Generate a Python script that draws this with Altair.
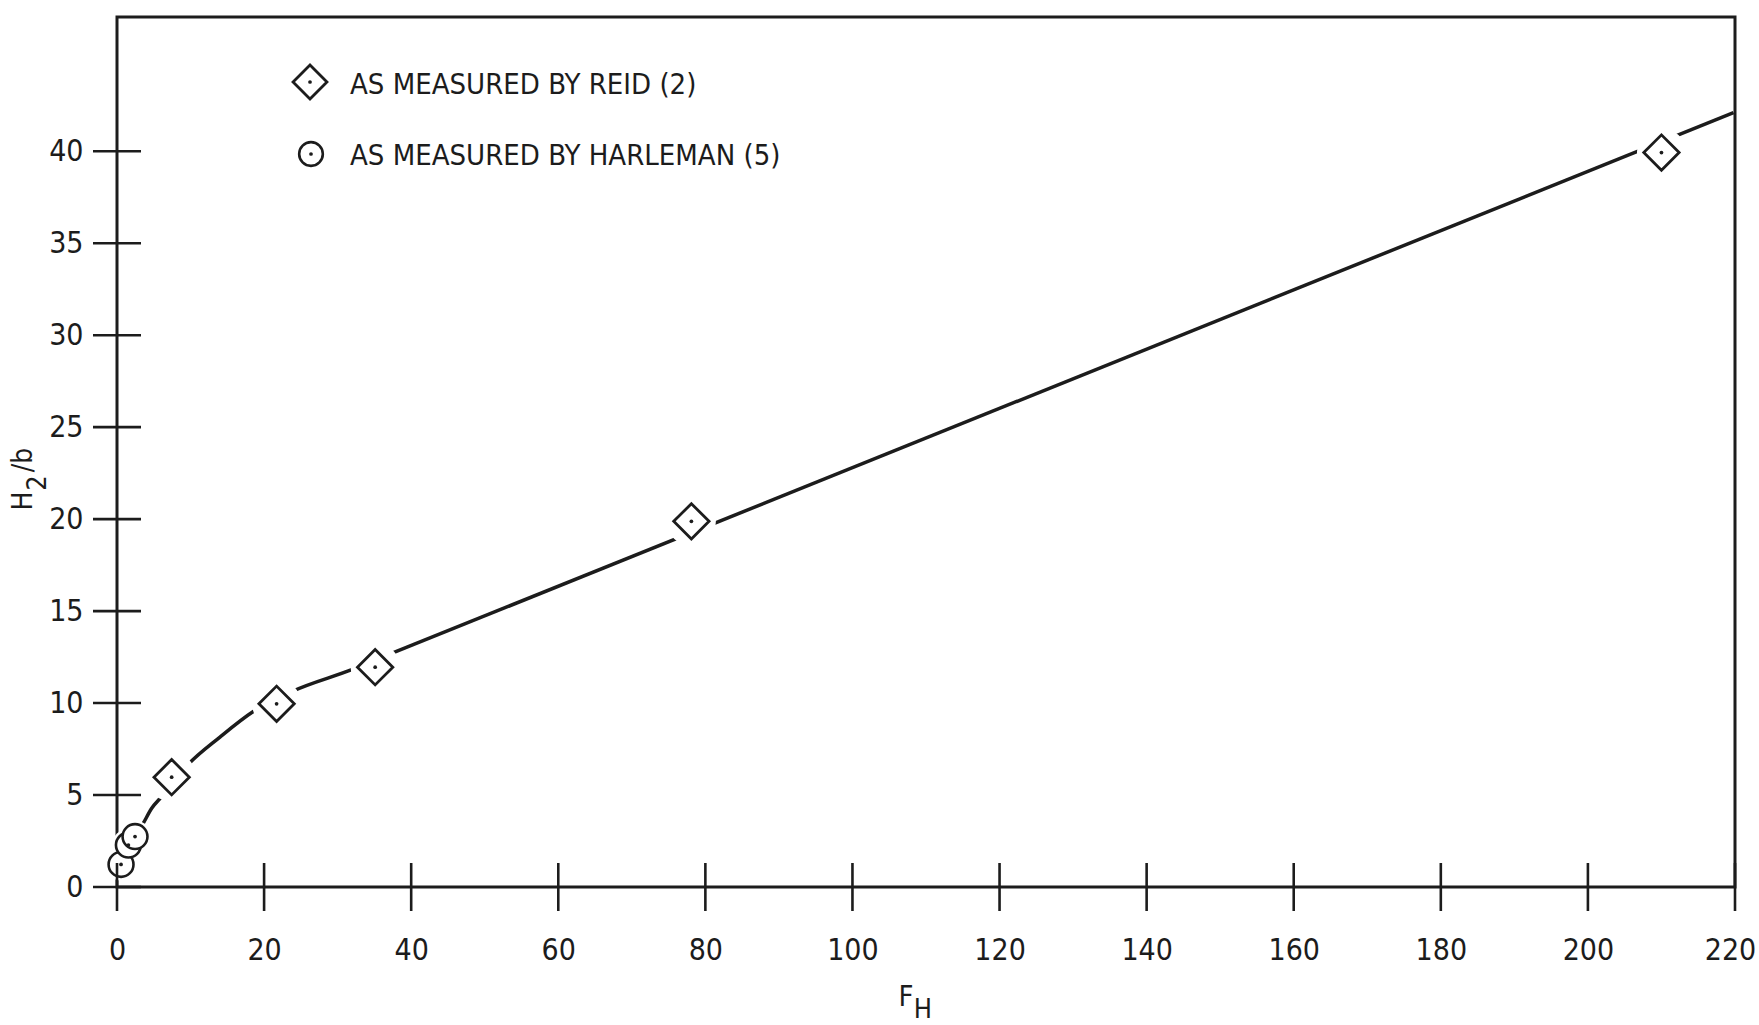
import altair as alt
import pandas as pd

# ---- data ----
reid_x = [7.43, 21.7, 35.1, 78.1, 210.0]
reid_y = [5.97, 9.96, 11.95, 19.88, 39.93]

harl_x = [0.55, 1.55, 2.45]
harl_y = [1.23, 2.28, 2.74]

# hand-drawn curve (smooth part) and straight part
curve_x = [2.45, 3.58, 4.72, 6.07, 9.47, 14.0, 18.53, 23.8, 32.1, 36.9]
curve_y = [2.7, 3.47, 4.28, 4.91, 6.58, 8.15, 9.54, 10.63, 11.84, 12.63]
straight_x = [36.9, 219.8]
straight_y = [12.63, 42.1]

x_ticks = [0, 20, 40, 60, 80, 100, 120, 140, 160, 180, 200, 220]
y_ticks = [0, 5, 10, 15, 20, 25, 30, 35, 40]

legend_labels = ["AS MEASURED BY REID (2)", "AS MEASURED BY HARLEMAN (5)"]

FONT = "Liberation Sans Narrow, DejaVu Sans Condensed, Liberation Sans, sans-serif"
INK = "#1c1c1c"

reid = pd.DataFrame({"x": reid_x, "y": reid_y})
harl = pd.DataFrame({"x": harl_x, "y": harl_y})
curve = pd.DataFrame({"x": curve_x, "y": curve_y})
straight = pd.DataFrame({"x": straight_x, "y": straight_y})
xt = pd.DataFrame({"v": x_ticks})
yt = pd.DataFrame({"v": y_ticks})

xs = alt.Scale(domain=[0, 220], nice=False, zero=False)
ys = alt.Scale(domain=[0, 47.3], nice=False, zero=False)

xaxis = alt.Axis(values=x_ticks, domain=False, ticks=False, grid=False, labelPadding=48,
                 labelFont=FONT, labelFontSize=30, labelColor=INK, title=None, labelFlush=False,
                 labelOffset=alt.ExprRef("datum.value == 220 ? -5 : 0"))
yaxis = alt.Axis(values=y_ticks, domain=False, ticks=False, grid=False, labelPadding=34,
                 labelFont=FONT, labelFontSize=30, labelColor=INK, title=None)

line = alt.Chart(curve).mark_line(interpolate="monotone", color=INK, strokeWidth=3.5).encode(
    x=alt.X("x:Q", scale=xs, axis=xaxis),
    y=alt.Y("y:Q", scale=ys, axis=yaxis),
    order="x:Q",
)
line2 = alt.Chart(straight).mark_line(color=INK, strokeWidth=3.5).encode(
    x=alt.X("x:Q", scale=xs), y=alt.Y("y:Q", scale=ys), order="x:Q")

halo_reid = alt.Chart(reid).mark_point(shape="circle", filled=True, color="white", opacity=1, size=2400).encode(
    x=alt.X("x:Q", scale=xs), y=alt.Y("y:Q", scale=ys))
halo_harl = alt.Chart(harl).mark_point(shape="circle", filled=True, color="white", opacity=1, size=1050).encode(
    x=alt.X("x:Q", scale=xs), y=alt.Y("y:Q", scale=ys))

diam = alt.Chart(reid).mark_point(shape="diamond", fill="white", fillOpacity=1, stroke=INK, strokeWidth=2.8,
                                  opacity=1, size=1250).encode(
    x=alt.X("x:Q", scale=xs), y=alt.Y("y:Q", scale=ys))
circ = alt.Chart(harl).mark_point(shape="circle", fill="white", fillOpacity=1, stroke=INK, strokeWidth=2.6,
                                  opacity=1, size=620).encode(
    x=alt.X("x:Q", scale=xs), y=alt.Y("y:Q", scale=ys))

dots = alt.Chart(pd.concat([reid, harl])).mark_point(shape="circle", filled=True, color=INK, opacity=1,
                                                      size=14).encode(
    x=alt.X("x:Q", scale=xs), y=alt.Y("y:Q", scale=ys))

xtick = alt.Chart(xt).mark_tick(orient="vertical", size=48, thickness=2.6, color=INK, opacity=1).encode(
    x=alt.X("v:Q", scale=xs), y=alt.datum(0, scale=ys))
ytick = alt.Chart(yt).mark_tick(orient="horizontal", size=48, thickness=2.6, color=INK, opacity=1).encode(
    y=alt.Y("v:Q", scale=ys), x=alt.datum(0, scale=xs))

one = pd.DataFrame({"a": [0]})

# legend
leg_sym1 = alt.Chart(one).mark_point(
    shape="diamond", fill="white", fillOpacity=1, stroke=INK, strokeWidth=2.8, opacity=1, size=1150
).encode(x=alt.value(193), y=alt.value(65))
leg_sym2 = alt.Chart(one).mark_point(
    shape="circle", fill="white", fillOpacity=1, stroke=INK, strokeWidth=2.6, opacity=1, size=560
).encode(x=alt.value(194), y=alt.value(137))
leg_dot1 = alt.Chart(one).mark_point(
    shape="circle", filled=True, color=INK, opacity=1, size=14).encode(x=alt.value(193), y=alt.value(65))
leg_dot2 = alt.Chart(one).mark_point(
    shape="circle", filled=True, color=INK, opacity=1, size=14).encode(x=alt.value(194), y=alt.value(137))
leg_t1 = alt.Chart(pd.DataFrame({"t": [legend_labels[0]]})).mark_text(
    align="left", baseline="middle", font=FONT, fontSize=29, color=INK
).encode(text="t:N", x=alt.value(233), y=alt.value(68))
leg_t2 = alt.Chart(pd.DataFrame({"t": [legend_labels[1]]})).mark_text(
    align="left", baseline="middle", font=FONT, fontSize=29, color=INK
).encode(text="t:N", x=alt.value(233), y=alt.value(139))

# axis titles with subscripts
tF = alt.Chart(pd.DataFrame({"t": ["F"]})).mark_text(
    align="center", baseline="middle", font=FONT, fontSize=29, color=INK
).encode(text="t:N", x=alt.value(789), y=alt.value(980))
tH = alt.Chart(pd.DataFrame({"t": ["H"]})).mark_text(
    align="center", baseline="middle", font=FONT, fontSize=27, color=INK
).encode(text="t:N", x=alt.value(806), y=alt.value(993))

yH = alt.Chart(pd.DataFrame({"t": ["H"]})).mark_text(
    align="center", baseline="middle", font=FONT, fontSize=28, color=INK, angle=270
).encode(text="t:N", x=alt.value(-93), y=alt.value(484))
y2 = alt.Chart(pd.DataFrame({"t": ["2"]})).mark_text(
    align="center", baseline="middle", font=FONT, fontSize=27, color=INK, angle=270
).encode(text="t:N", x=alt.value(-79), y=alt.value(466))
yb = alt.Chart(pd.DataFrame({"t": ["/b"]})).mark_text(
    align="center", baseline="middle", font=FONT, fontSize=28, color=INK, angle=270
).encode(text="t:N", x=alt.value(-93), y=alt.value(443))

chart = alt.layer(
    line, line2, halo_reid, halo_harl, diam, circ, dots, xtick, ytick,
    leg_sym1, leg_sym2, leg_dot1, leg_dot2, leg_t1, leg_t2, tF, tH, yH, y2, yb
).properties(
    width=1618, height=870,
    autosize=alt.AutoSizeParams(type="none"),
    padding={"left": 117, "top": 17, "right": 24, "bottom": 138},
    background="white",
).configure_view(stroke=INK, strokeWidth=3)

chart.save("out.html", embed_options={"renderer": "svg", "actions": False})
